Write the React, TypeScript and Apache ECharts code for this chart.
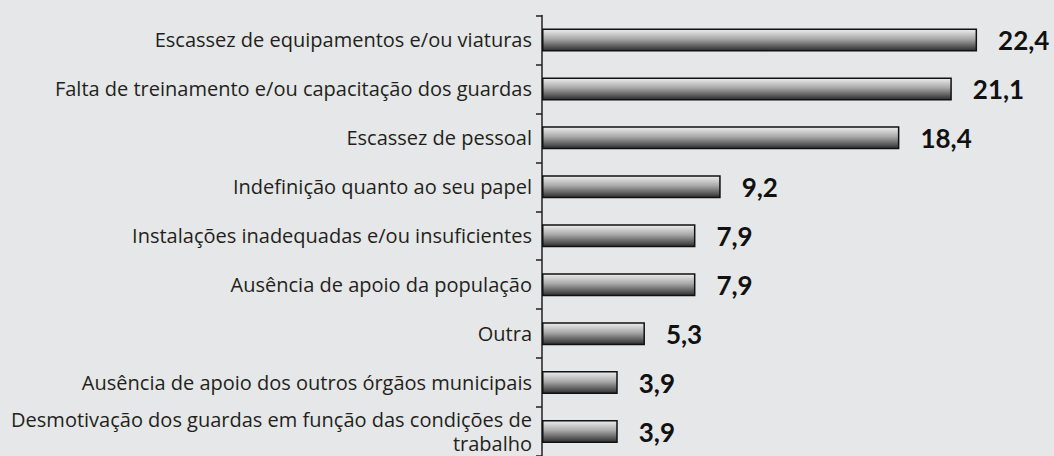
import React, { useEffect, useRef } from "react";
import * as echarts from "echarts";

const categories = [
  "Escassez de equipamentos e/ou viaturas",
  "Falta de treinamento e/ou capacitação dos guardas",
  "Escassez de pessoal",
  "Indefinição quanto ao seu papel",
  "Instalações inadequadas e/ou insuficientes",
  "Ausência de apoio da população",
  "Outra",
  "Ausência de apoio dos outros órgãos municipais",
  "Desmotivação dos guardas em função das condições de\ntrabalho",
];

const values = [22.4, 21.1, 18.4, 9.2, 7.9, 7.9, 5.3, 3.9, 3.9];

export default function App() {
  const ref = useRef<HTMLDivElement>(null);
  useEffect(() => {
    if (!ref.current) return;
    const chart = echarts.init(ref.current, undefined, { renderer: "svg" });
    chart.setOption({
      animation: false,
      backgroundColor: "#e6e7e8",
      grid: { left: 542, right: 7, top: 15.5, bottom: -4, containLabel: false },
      xAxis: {
        type: "value",
        min: 0,
        max: 26,
        show: false,
      },
      yAxis: {
        type: "category",
        inverse: true,
        data: categories,
        axisLine: { show: true, lineStyle: { color: "#231f20", width: 1.5 } },
        axisTick: { show: true, length: 6, lineStyle: { color: "#231f20", width: 1.5 } },
        axisLabel: {
          margin: 10,
          fontFamily: "Open Sans",
          fontSize: 20,
          color: "#231f20",
          lineHeight: 24,
          align: "right",
        },
        splitLine: { show: false },
      },
      series: [
        {
          type: "bar",
          data: values,
          barWidth: 23,
          itemStyle: {
            color: new echarts.graphic.LinearGradient(0, 0, 0, 1, [
              { offset: 0, color: "#eeeeee" },
              { offset: 0.45, color: "#a8a8a8" },
              { offset: 1, color: "#2e2e2e" },
            ]),
            borderColor: "#111111",
            borderWidth: 1.5,
          },
          label: {
            show: true,
            position: "right",
            distance: 21,
            fontFamily: "Lato",
            fontWeight: "bold",
            fontSize: 26,
            color: "#111111",
            formatter: (p: any) => String(p.value).replace(".", ","),
          },
        },
      ],
    });
    return () => chart.dispose();
  }, []);
  return (
    <div
      ref={ref}
      style={{ position: "absolute", left: 0, top: 0, width: 1054, height: 456 }}
    />
  );
}
